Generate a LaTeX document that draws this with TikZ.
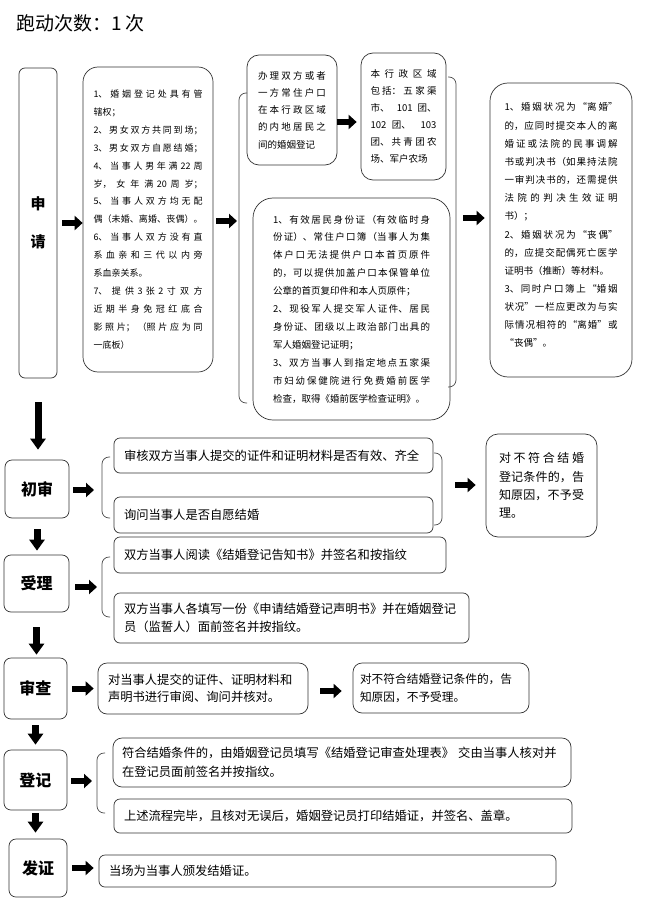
\documentclass[tikz,border=0pt]{standalone}
\usepackage{fontspec}
\setmainfont{Noto Sans CJK SC}
\usetikzlibrary{arrows.meta}
\XeTeXlinebreaklocale "zh"
\XeTeXlinebreakskip=0pt plus 3pt minus 0.3pt
\tolerance=10000
\begin{document}
\begin{tikzpicture}[x=1pt,y=-1pt,
  bx/.style={draw=black!80, line width=0.7pt, fill=white, inner sep=0pt},
  hd/.style={bx, rounded corners=7pt, align=center, font=\fontsize{16}{18}\selectfont\bfseries},
  pbox/.style={bx, rounded corners=15pt, align=justify},
  lbox/.style={bx, rounded corners=6pt, align=left, inner xsep=10pt, font=\fontsize{12.3}{18}\selectfont},
  barrow/.style={line width=6pt, -{Triangle[length=8pt,width=14pt]}},
  darrow/.style={line width=7pt, -{Triangle[length=11pt,width=15pt]}},
  brk/.style={draw=black!70, line width=0.7pt, rounded corners=7pt},
]
\fill[white] (0,0) rectangle (669,904);
\useasboundingbox (0,0) rectangle (669,904);

% title
\node[anchor=west, inner sep=0pt, font=\fontsize{19}{22}\selectfont] (title) at (16,23) {跑动次数：1 次};

% 申请 row
\node[hd, rounded corners=6pt, minimum width=38pt, minimum height=310pt, font=\fontsize{15}{38}\selectfont\bfseries] (sq) at (38,223) {申\\请};

\node[pbox, minimum width=130pt, minimum height=305pt, text width=109pt, font=\fontsize{9}{17.9}\selectfont] (b1) at (148,219.5)
{1、婚姻登记处具有管\linebreak 辖权；\\
2、男女双方共同到场；\linebreak
3、男女双方自愿结婚；\linebreak
4、当事人男年满 22 周\linebreak 岁，女年满 20 周岁；\linebreak
5、当事人双方均无配\linebreak 偶（未婚、离婚、丧偶）。\linebreak
6、当事人双方没有直\linebreak 系血亲和三代以内旁\linebreak 系血亲关系。\\
7、提供 3 张 2 寸双方\linebreak 近期半身免冠红底合\linebreak 影照片；（照片应为同\linebreak 一底板）};

\node[pbox, rounded corners=12pt, minimum width=90pt, minimum height=110pt, text width=68pt, font=\fontsize{9.5}{17.3}\selectfont] (b2) at (292,110)
{办理双方或者\linebreak 一方常住户口\linebreak 在本行政区域\linebreak 的内地居民之\linebreak 间的婚姻登记};

\node[pbox, rounded corners=12pt, minimum width=85pt, minimum height=127pt, text width=66pt, font=\fontsize{9.5}{17}\selectfont] (b3) at (403.5,116.5)
{本行政区域\linebreak 包括：五家渠\linebreak 市、101 团、\linebreak 102 团、103\linebreak 团、共青团农\linebreak 场、军户农场};

\node[pbox, rounded corners=20pt, minimum width=197pt, minimum height=222pt, text width=157pt, font=\fontsize{9.5}{17.9}\selectfont] (b4) at (351.5,309)
{1、有效居民身份证（有效临时身\linebreak 份证）、常住户口簿（当事人为集\linebreak 体户口无法提供户口本首页原件\linebreak 的，可以提供加盖户口本保管单位\linebreak 公章的首页复印件和本人页原件；\\
2、现役军人提交军人证件、居民\linebreak 身份证、团级以上政治部门出具的\linebreak 军人婚姻登记证明；\\
3、双方当事人到指定地点五家渠\linebreak 市妇幼保健院进行免费婚前医学\linebreak 检查，取得《婚前医学检查证明》。};

\node[pbox, rounded corners=18pt, minimum width=142pt, minimum height=294pt, text width=113pt, font=\fontsize{9.5}{18.15}\selectfont] (b5) at (561,230)
{1、婚姻状况为“离婚”\linebreak 的，应同时提交本人的离\linebreak 婚证或法院的民事调解\linebreak 书或判决书（如果持法院\linebreak 一审判决书的，还需提供\linebreak 法院的判决生效证明\linebreak 书）；\\
2、婚姻状况为“丧偶”\linebreak 的，应提交配偶死亡医学\linebreak 证明书（推断）等材料。\\
3、同时户口簿上“婚姻\linebreak 状况”一栏应更改为与实\linebreak 际情况相符的“离婚”或\linebreak “丧偶”。\\[-8pt]};

% brackets (top)
\draw[brk] (247,93) -- (239,93) -- (239,403) -- (247,403);
\coordinate (brA) at (239,221);
\draw[brk] (448,77) -- (456,77) -- (456,387) -- (448,387);
\coordinate (brB) at (456,218);

\draw[barrow, shorten <=5pt] (sq.east) -- (sq.east -| b1.west);
\draw[barrow, shorten <=3pt, shorten >=2pt] (b1.east |- brA) -- (brA);
\draw[barrow, shorten >=4pt] ([yshift=-12pt]b2.east) -- ([yshift=-12pt]b2.east -| b3.west);
\draw[barrow, shorten <=7pt, shorten >=5pt] (brB) -- (brB -| b5.west);

% 初审 row
\node[hd, minimum width=64pt, minimum height=58pt] (cs) at (37,489) {初审};
\node[lbox, minimum width=319pt, minimum height=35pt, text width=299pt] (cs1) at (273.5,455.5) {审核双方当事人提交的证件和证明材料是否有效、齐全};
\node[lbox, minimum width=319pt, minimum height=36pt, text width=299pt] (cs2) at (273.5,515) {询问当事人是否自愿结婚};
\node[pbox, rounded corners=12pt, minimum width=111pt, minimum height=103pt, text width=85pt, font=\fontsize{12}{18.3}\selectfont] (cs3) at (541.5,485.5)
{对不符合结婚\linebreak 登记条件的，告\linebreak 知原因，不予受\linebreak 理。};
\draw[brk] (110,457) -- (102,457) -- (102,518) -- (110,518);
\coordinate (brC) at (102,490);
\draw[brk] (434,453) -- (442,453) -- (442,525) -- (434,525);
\coordinate (brD) at (442,485);
\draw[barrow, shorten <=4pt, shorten >=8pt] (cs.east |- brC) -- (brC);
\draw[barrow, shorten <=13pt, shorten >=10pt] (brD) -- (brD -| cs3.west);

% 受理 row
\node[hd, minimum width=65pt, minimum height=57pt] (sl) at (36.5,583.5) {受理};
\node[lbox, minimum width=332pt, minimum height=36pt, text width=312pt] (sl1) at (280,555) {双方当事人阅读《结婚登记告知书》并签名和按指纹};
\node[lbox, minimum width=355pt, minimum height=50pt, text width=335pt] (sl2) at (291.5,618) {双方当事人各填写一份《申请结婚登记声明书》并在婚姻登记\\员（监誓人）面前签名并按指纹。};
\draw[brk] (110,557) -- (102,557) -- (102,617) -- (110,617);
\coordinate (brE) at (102,587);
\draw[barrow, shorten <=6pt, shorten >=5pt] (sl.east |- brE) -- (brE);

% 审查 row
\node[hd, minimum width=63pt, minimum height=61pt] (sc) at (35.5,688.5) {审查};
\node[lbox, rounded corners=9pt, minimum width=210pt, minimum height=51pt, text width=190pt, font=\fontsize{12.3}{16.5}\selectfont] (sc1) at (203,688.5) {对当事人提交的证件、证明材料和\\声明书进行审阅、询问并核对。};
\node[lbox, rounded corners=9pt, minimum width=176pt, minimum height=50pt, text width=162pt, inner xsep=7pt, font=\fontsize{11.7}{18}\selectfont] (sc2) at (441,688) {对不符合结婚登记条件的，告\\知原因，不予受理。};
\draw[barrow, shorten <=5pt, shorten >=4pt] (sc.east) -- (sc.east -| sc1.west);
\draw[barrow, shorten <=12pt, shorten >=11pt] ([yshift=-2.5pt]sc1.east) -- ([yshift=-2.5pt]sc1.east -| sc2.west);

% 登记 row
\node[hd, minimum width=63pt, minimum height=60pt] (dj) at (35.5,780) {登记};
\node[lbox, rounded corners=9pt, minimum width=458pt, minimum height=49pt, text width=440pt, inner xsep=9pt, font=\fontsize{12.3}{19}\selectfont] (dj1) at (342,762.5) {符合结婚条件的，由婚姻登记员填写《结婚登记审查处理表》 交由当事人核对并\\在登记员面前签名并按指纹。};
\node[lbox, minimum width=458pt, minimum height=34pt, text width=438pt] (dj2) at (343,816) {上述流程完毕，且核对无误后，婚姻登记员打印结婚证，并签名、盖章。};
\draw[brk] (105,753) -- (97,753) -- (97,813) -- (105,813);
\coordinate (brF) at (97,781);
\draw[barrow, shorten <=4pt, shorten >=5pt] (dj.east |- brF) -- (brF);

% 发证 row
\node[hd, minimum width=58pt, minimum height=58pt] (fz) at (38,868) {发证};
\node[lbox, minimum width=457pt, minimum height=32pt, text width=437pt] (fz1) at (327.5,871) {当场为当事人颁发结婚证。};
\draw[barrow, shorten <=5pt, shorten >=5pt] (fz.east) -- (fz.east -| fz1.west);

% down arrows
\draw[darrow, shorten <=24pt, shorten >=10pt] (sq.south) -- (sq.south |- cs.north);
\draw[darrow, shorten <=11pt, shorten >=4pt] (cs.south) -- (cs.south |- sl.north);
\draw[darrow, shorten <=15pt, shorten >=3pt] (sl.south) -- (sl.south |- sc.north);
\draw[darrow, shorten <=6pt, shorten >=5pt] (sc.south) -- (sc.south |- dj.north);
\draw[darrow, shorten <=3pt, shorten >=6pt] (dj.south) -- (dj.south |- fz.north);
\end{tikzpicture}
\end{document}
